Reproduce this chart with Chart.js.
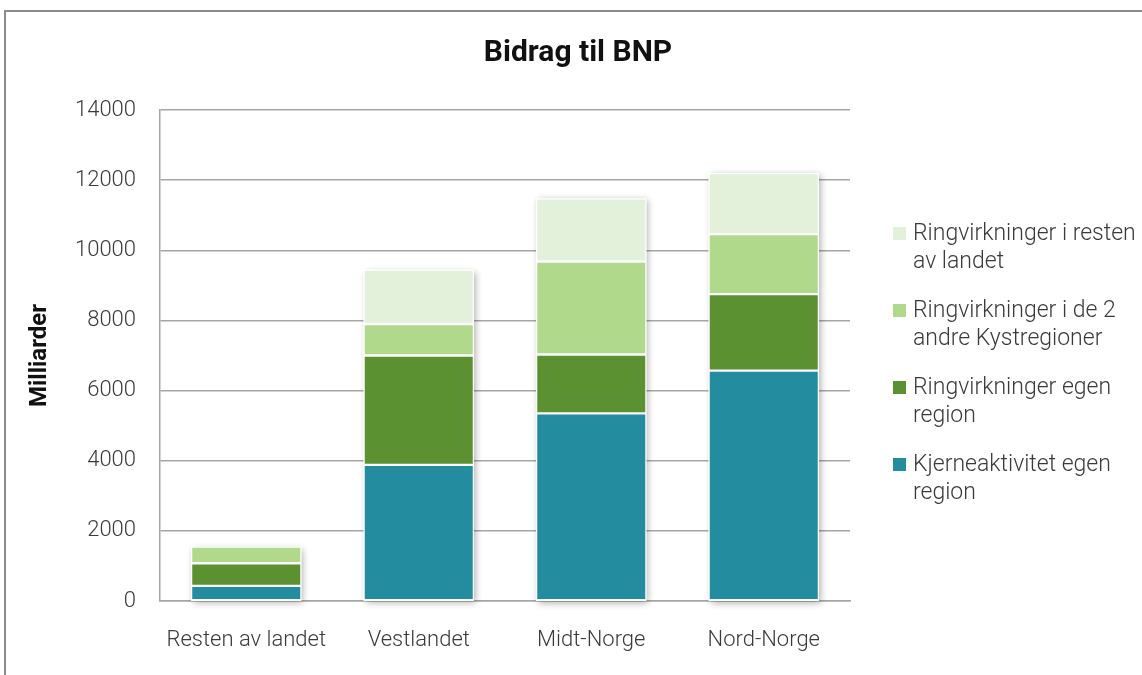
<!DOCTYPE html>
<html>
<head>
<meta charset="utf-8">
<script src="https://cdn.jsdelivr.net/npm/chart.js@4.4.1/dist/chart.umd.min.js"></script>
<style>
  html, body { margin: 0; padding: 0; background: #fff; }
  #wrap { position: relative; width: 1142px; height: 675px; overflow: hidden; }
  #frame { position: absolute; left: 4px; top: 10px; width: 1200px; height: 700px;
           border-left: 2px solid #8a8a8a; border-top: 2px solid #8a8a8a; box-sizing: border-box; }
  canvas { position: absolute; left: 0; top: 0; }
  #legend { position: absolute; left: 893px; top: 219px; font-family: Roboto, "Open Sans", sans-serif;
            font-weight: 300; font-size: 23px; color: #3a3a3a; line-height: 28px; }
  .item { position: relative; padding-left: 20px; margin-bottom: 21px; width: 228px; }
  .sw { position: absolute; left: 0; top: 8px; width: 13px; height: 13px; }
</style>
</head>
<body>
<div id="wrap">
  <div id="frame"></div>
  <canvas id="c" width="1142" height="675"></canvas>
  <div id="legend"></div>
</div>
<script>
// Regions on the x axis
const categories = ['Resten av landet', 'Vestlandet', 'Midt-Norge', 'Nord-Norge'];

// Contribution to GDP per component (milliarder)
const kjerneaktivitet = [430, 3880, 5350, 6570];
const ringEgenRegion = [645, 3120, 1680, 2180];
const ringKystregioner = [475, 900, 2650, 1710];
const ringRestenAvLandet = [0, 1550, 1800, 1740];

const yTicks = [0, 2000, 4000, 6000, 8000, 10000, 12000, 14000];

const seriesNames = [
  'Kjerneaktivitet egen region',
  'Ringvirkninger egen region',
  'Ringvirkninger i de 2 andre Kystregioner',
  'Ringvirkninger i resten av landet'
];
const seriesColors = ['#238c9f', '#5b9130', '#b0d98c', '#e3f1da'];
const seriesData = [kjerneaktivitet, ringEgenRegion, ringKystregioner, ringRestenAvLandet];

const chartTitle = 'Bidrag til BNP';
const FONT = 'Roboto, "Open Sans", sans-serif';

// Soft drop shadow behind each full stack
const stackShadow = {
  id: 'stackShadow',
  beforeDatasetsDraw(chart) {
    const { ctx, scales: { y } } = chart;
    const meta = chart.getDatasetMeta(0);
    ctx.save();
    ctx.shadowColor = 'rgba(0,0,0,0.32)';
    ctx.shadowBlur = 7;
    ctx.shadowOffsetX = 2;
    ctx.shadowOffsetY = 2;
    ctx.fillStyle = '#ffffff';
    categories.forEach((c, i) => {
      const total = seriesData.reduce((s, arr) => s + arr[i], 0);
      const bar = meta.data[i];
      const w = bar.width;
      const top = y.getPixelForValue(total);
      const bottom = y.getPixelForValue(0);
      ctx.fillRect(bar.x - w / 2, top, w, bottom - top);
    });
    ctx.restore();
  }
};

// Title centred across the whole framed area
const centredTitle = {
  id: 'centredTitle',
  afterDraw(chart) {
    const { ctx } = chart;
    ctx.save();
    ctx.font = 'bold 30px ' + FONT;
    ctx.fillStyle = '#111';
    ctx.textAlign = 'center';
    ctx.textBaseline = 'alphabetic';
    ctx.fillText(chartTitle, 578, 61);
    ctx.restore();
  }
};

new Chart(document.getElementById('c'), {
  type: 'bar',
  data: {
    labels: categories,
    datasets: seriesData.map((d, i) => ({
      label: seriesNames[i],
      data: d,
      backgroundColor: seriesColors[i],
      borderColor: '#ffffff',
      borderWidth: 1.2,
      borderSkipped: false,
      barPercentage: 0.64,
      categoryPercentage: 1
    }))
  },
  options: {
    responsive: false,
    animation: false,
    layout: { padding: { left: 10, right: 292, top: 110, bottom: 0 } },
    plugins: {
      legend: { display: false },
      tooltip: { enabled: false },
      title: { display: false }
    },
    scales: {
      x: {
        stacked: true,
        grid: { display: false, drawTicks: false },
        border: { display: true, color: '#a6a6a6', width: 1.5 },
        ticks: { color: '#3a3a3a', padding: 26, font: { family: FONT, size: 22, weight: 300 } },
        afterFit(scale) { scale.height = 74; }
      },
      y: {
        stacked: true,
        min: 0,
        max: 14000,
        afterBuildTicks(scale) { scale.ticks = yTicks.map(v => ({ value: v })); },
        grid: { color: '#a6a6a6', lineWidth: 1.5, drawTicks: false },
        border: { display: true, color: '#a6a6a6', width: 1.5 },
        ticks: {
          color: '#3a3a3a', padding: 24, font: { family: FONT, size: 22, weight: 300 },
          callback: v => String(v)
        },
        title: {
          display: true,
          text: 'Milliarder',
          color: '#111',
          font: { family: FONT, size: 24, weight: 'bold' },
          padding: { top: 16, bottom: 0 }
        },
        afterFit(scale) { scale.width = 150; }
      }
    }
  },
  plugins: [stackShadow, centredTitle]
});

// Legend listed top-down in reverse stacking order, text wraps in the column
const legend = document.getElementById('legend');
for (let i = seriesNames.length - 1; i >= 0; i--) {
  const item = document.createElement('div');
  item.className = 'item';
  const sw = document.createElement('span');
  sw.className = 'sw';
  sw.style.background = seriesColors[i];
  item.appendChild(sw);
  item.appendChild(document.createTextNode(seriesNames[i]));
  legend.appendChild(item);
}
</script>
</body>
</html>
